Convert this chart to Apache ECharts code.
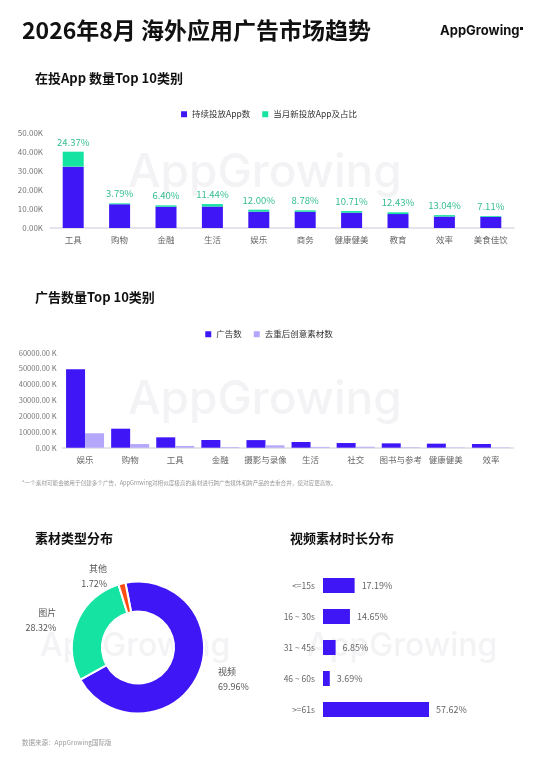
<!DOCTYPE html>
<html><head><meta charset="utf-8">
<script src="https://cdn.jsdelivr.net/npm/echarts@6/dist/echarts.min.js"></script>
<style>html,body{margin:0;padding:0;background:#fff}#c{width:538px;height:765px}</style>
</head><body><div id="c"></div>
<script>
// Chart 1: 在投App 数量 Top 10 类别 (K)
const appCats = ['工具','购物','金融','生活','娱乐','商务','健康健美','教育','效率','美食佳饮'];
const appContinuing = [32.3, 12.5, 11.2, 11.3, 8.6, 8.55, 8.05, 7.35, 6.0, 5.9];
const appNew = [7.87, 0.47, 0.72, 1.29, 1.03, 0.75, 0.86, 0.91, 0.78, 0.42];
const appNewPct = ['24.37%','3.79%','6.40%','11.44%','12.00%','8.78%','10.71%','12.43%','13.04%','7.11%'];
// Chart 2: 广告数量 Top 10 类别 (K)
const adCats = ['娱乐','购物','工具','金融','摄影与录像','生活','社交','图书与参考','健康健美','效率'];
const adCount = [49500, 12000, 6550, 4850, 4800, 3600, 2950, 2750, 2550, 2350];
const adCreative = [9100, 2300, 1100, 400, 1500, 500, 600, 300, 200, 200];
// Chart 3: 素材类型分布 (%)
const typeNames = ['视频','图片','其他'];
const typeValues = [69.96, 28.32, 1.72];
// Chart 4: 视频素材时长分布 (%)
const durCats = ['<=15s','16 ~ 30s','31 ~ 45s','46 ~ 60s','>=61s'];
const durValues = [17.19, 14.65, 6.85, 3.69, 57.62];

const BLUE = '#3f17f7', GREEN = '#14e3a1', LAV = '#b4a6fa', ORANGE = '#ff4d12';
const FONT = '"Noto Sans CJK SC", "Noto Sans", sans-serif';
const chart = echarts.init(document.getElementById('c'), null, {renderer:'canvas'});

function wm(x, y, size){
  return {type:'text', left:x, top:y, z:-10, silent:true,
    style:{text:'AppGrowing', fill:'#f3f3f5', font:'500 '+size+'px Inter, "Open Sans", sans-serif'}};
}
const option = {
  backgroundColor:'#fff',
  textStyle:{fontFamily:FONT},
  animation:false,
  graphic:[
    wm(128, 150, 46), wm(128, 377, 46), wm(40, 630, 32), wm(307, 630, 32),
    {type:'text', left:22, top:19, style:{text:'2026年8月 海外应用广告市场趋势', fill:'#111', font:'bold 23px '+FONT}},
    {type:'text', left:440, top:25, style:{text:'AppGrowing', fill:'#111', font:'bold 13px Inter, "Noto Sans", sans-serif'}},
    {type:'rect', left:520, top:27, shape:{width:3,height:3}, style:{fill:'#111'}},
    {type:'text', left:35, top:72, style:{text:'在投App 数量Top 10类别', fill:'#111', font:'bold 13px '+FONT}},
    {type:'text', left:35, top:291, style:{text:'广告数量Top 10类别', fill:'#111', font:'bold 13px '+FONT}},
    {type:'text', left:22, top:480, style:{text:'*一个素材可能会被用于创建多个广告，AppGrowing对相似度极高的素材进行跨广告媒体和跨产品的去重合并，使对应更高效。', fill:'#999', font:'5.6px '+FONT}},
    {type:'text', left:35, top:532, style:{text:'素材类型分布', fill:'#111', font:'bold 13px '+FONT}},
    {type:'text', left:290, top:532, style:{text:'视频素材时长分布', fill:'#111', font:'bold 13px '+FONT}},
    {type:'text', left:22, top:739, style:{text:'数据来源：AppGrowing国际版', fill:'#999', font:'6.5px '+FONT}}
  ],
  legend:[
    {data:['持续投放App数','当月新投放App及占比'], left:'center', top:105, itemWidth:6, itemHeight:6, itemGap:12,
     icon:'rect', textStyle:{fontSize:8.5, color:'#333', fontFamily:FONT}},
    {data:['广告数','去重后创意素材数'], left:'center', top:325, itemWidth:6, itemHeight:6, itemGap:12,
     icon:'rect', textStyle:{fontSize:8.5, color:'#333', fontFamily:FONT}}
  ],
  grid:[
    {left:50, right:24, top:133, height:95},
    {left:62.5, right:24.5, top:352.7, height:95},
    {left:323, width:184, top:570, height:155}
  ],
  xAxis:[
    {gridIndex:0, type:'category', data:appCats, axisTick:{show:false},
     axisLine:{lineStyle:{color:'#dcdce4', width:1.5}},
     axisLabel:{color:'#666', fontSize:8.5, margin:8, interval:0}},
    {gridIndex:1, type:'category', data:adCats, axisTick:{show:false},
     axisLine:{lineStyle:{color:'#dcdce4', width:1.5}},
     axisLabel:{color:'#666', fontSize:8.5, margin:8, interval:0}},
    {gridIndex:2, type:'value', min:0, max:100, show:false}
  ],
  yAxis:[
    {gridIndex:0, type:'value', min:0, max:50, interval:10, splitLine:{show:false},
     axisLabel:{color:'#777', fontSize:8, margin:7, formatter:v=>v.toFixed(2)+'K'}},
    {gridIndex:1, type:'value', min:0, max:60000, interval:10000, splitLine:{show:false},
     axisLabel:{color:'#777', fontSize:7.5, margin:6, formatter:v=>v.toFixed(2)+' K'}},
    {gridIndex:2, type:'category', data:durCats, inverse:true, axisLine:{show:false}, axisTick:{show:false},
     axisLabel:{color:'#666', fontSize:8.5, margin:8}}
  ],
  series:[
    {name:'持续投放App数', type:'bar', xAxisIndex:0, yAxisIndex:0, stack:'a', data:appContinuing,
     barWidth:21, itemStyle:{color:BLUE}},
    {name:'当月新投放App及占比', type:'bar', xAxisIndex:0, yAxisIndex:0, stack:'a', data:appNew,
     barWidth:21, itemStyle:{color:GREEN},
     label:{show:true, position:'top', distance:5, color:'#35bf8e', fontSize:9.5,
       formatter:p=>appNewPct[p.dataIndex]}},
    {name:'广告数', type:'bar', xAxisIndex:1, yAxisIndex:1, data:adCount, barWidth:19, barGap:'0%',
     itemStyle:{color:BLUE}},
    {name:'去重后创意素材数', type:'bar', xAxisIndex:1, yAxisIndex:1, data:adCreative, barWidth:19, barGap:'0%',
     itemStyle:{color:LAV}},
    {name:'素材类型', type:'pie', center:[138,647.5], radius:[36,66], startAngle:101, clockwise:true,
     data:typeNames.map((n,i)=>({name:n, value:typeValues[i], itemStyle:{color:[BLUE,GREEN,ORANGE][i]}})),
     itemStyle:{borderColor:'#fff', borderWidth:2},
     label:{show:true, formatter:'{b}\n{c}%', color:'#555', fontSize:9, lineHeight:15},
     labelLine:{show:false, length:8, length2:8}},
    {name:'视频时长', type:'bar', xAxisIndex:2, yAxisIndex:2, data:durValues, barWidth:15,
     itemStyle:{color:BLUE},
     label:{show:true, position:'right', distance:7, color:'#666', fontSize:9, formatter:'{c}%'}}
  ]
};
chart.setOption(option);
</script></body></html>
